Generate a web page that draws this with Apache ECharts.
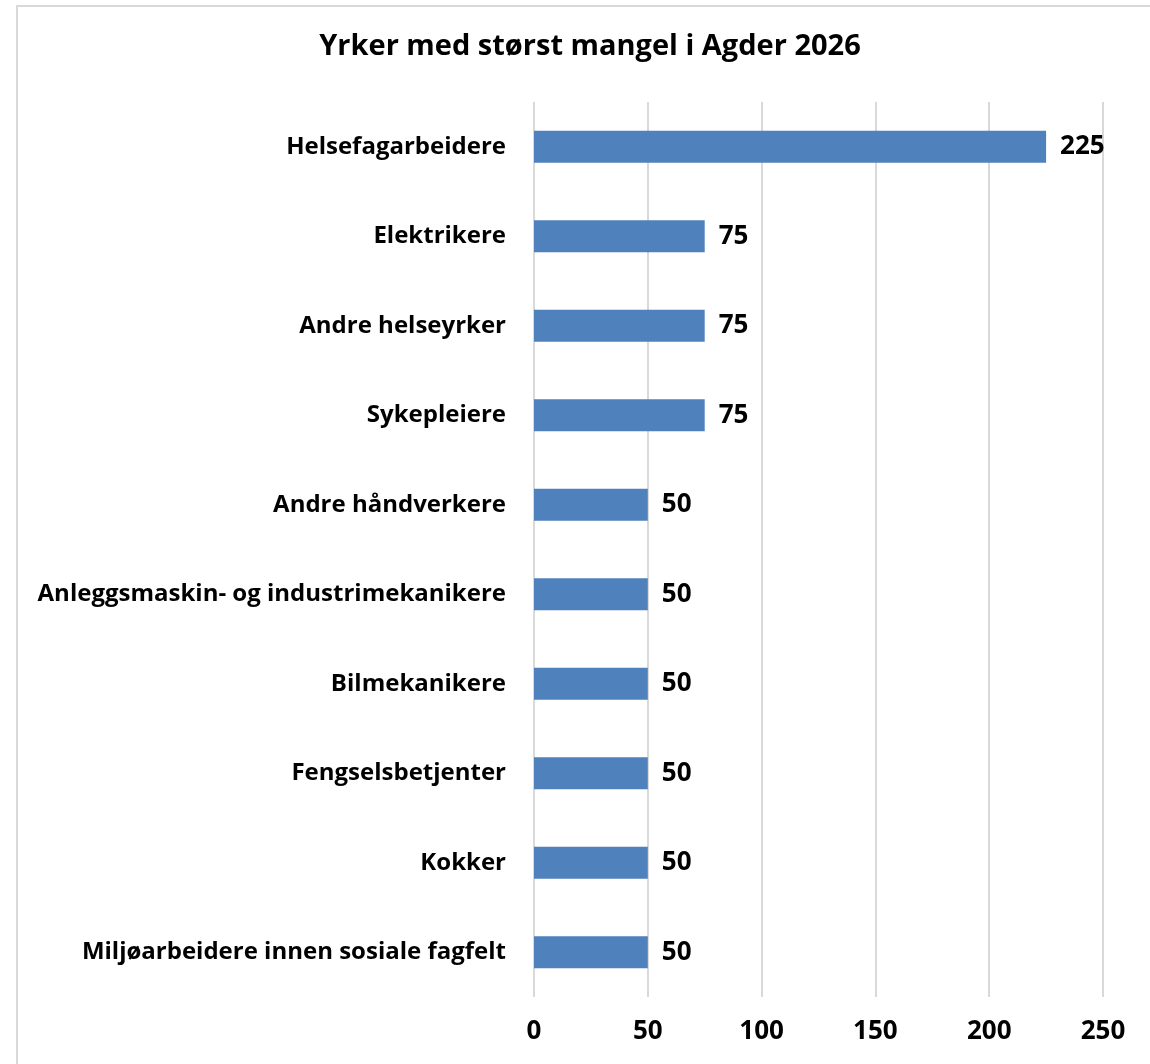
<!DOCTYPE html>
<html>
<head>
<meta charset="utf-8">
<script src="https://cdn.jsdelivr.net/npm/echarts@6/dist/echarts.min.js"></script>
<style>
  html, body { margin: 0; padding: 0; background: #fff; }
  #chart { width: 1150px; height: 1064px; }
</style>
</head>
<body>
<div id="chart"></div>
<script>
const categories = [
  "Helsefagarbeidere",
  "Elektrikere",
  "Andre helseyrker",
  "Sykepleiere",
  "Andre håndverkere",
  "Anleggsmaskin- og industrimekanikere",
  "Bilmekanikere",
  "Fengselsbetjenter",
  "Kokker",
  "Miljøarbeidere innen sosiale fagfelt"
];
const values = [225, 75, 75, 75, 50, 50, 50, 50, 50, 50];
const xTicks = [0, 50, 100, 150, 200, 250];

const font = "'Open Sans', sans-serif";
const chart = echarts.init(document.getElementById("chart"));

chart.setOption({
  animation: false,
  title: {
    text: "Yrker med størst mangel i Agder 2026",
    left: 585,
    textAlign: "center",
    top: 27,
    textStyle: { fontFamily: font, fontSize: 29, fontWeight: "bold", color: "#000" }
  },
  graphic: [{
    type: "rect",
    shape: { x: 17, y: 6, width: 1300, height: 1200 },
    style: { fill: "none", stroke: "#d9d9d9", lineWidth: 2 }
  }],
  grid: { left: 534, right: 47, top: 102, bottom: 67 },
  xAxis: {
    type: "value",
    min: xTicks[0],
    max: xTicks[xTicks.length - 1],
    interval: 50,
    axisLine: { show: false },
    axisTick: { show: false },
    axisLabel: {
      margin: 22,
      fontFamily: font, fontSize: 26, fontWeight: "bold", color: "#000"
    },
    splitLine: { show: true, lineStyle: { color: "#d9d9d9", width: 2 } }
  },
  yAxis: {
    type: "category",
    data: categories,
    inverse: true,
    axisLine: { show: false },
    axisTick: { show: false },
    axisLabel: {
      margin: 28,
      fontFamily: font, fontSize: 24, fontWeight: "bold", color: "#000"
    }
  },
  series: [{
    type: "bar",
    data: values,
    barWidth: 32,
    itemStyle: { color: "#4f81bd" },
    label: {
      show: true,
      position: "right",
      distance: 14,
      fontFamily: font, fontSize: 26, fontWeight: "bold", color: "#000"
    }
  }]
});
</script>
</body>
</html>
